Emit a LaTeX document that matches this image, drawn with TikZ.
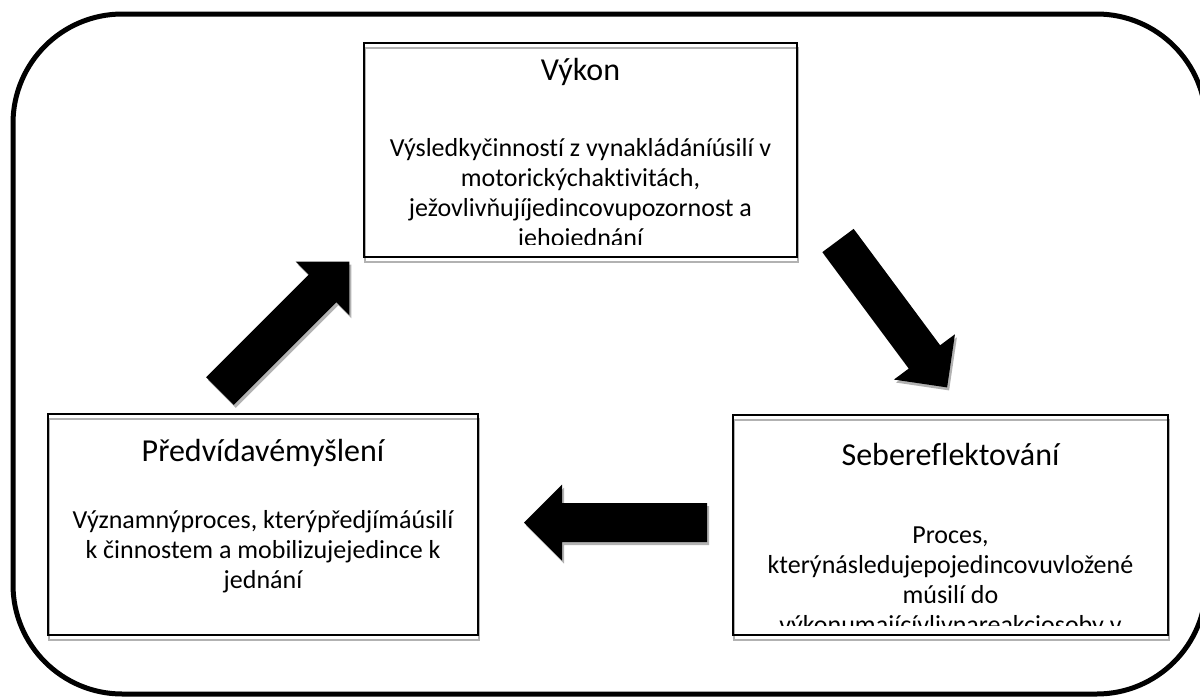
\documentclass[tikz,border=0pt]{standalone}
\usepackage{fontspec}
\setmainfont[Ligatures=NoCommon]{Carlito}
\newcommand{\headfont}{\fontsize{24}{28}\selectfont}
\newcommand{\bodyfont}{\fontsize{19.5}{22.5}\selectfont}
\tikzset{
  box/.style={draw, line width=1.5pt, inner sep=0pt},
  boxshadow/.style={draw=black!30, line width=1.5pt},
  head/.style={font=\headfont, inner sep=0pt},
  body/.style={font=\bodyfont, align=center, inner sep=0pt, anchor=north},
}
\begin{document}
\begin{tikzpicture}[x=0.75pt,y=-0.75pt]
\useasboundingbox (0,0) rectangle (1200,697);

% frame
\draw[line width=3.75pt, rounded corners=82pt] (13,14) rectangle (1206,694);

% boxes
\draw[boxshadow] (365,48) rectangle (798,262);
\draw[boxshadow] (49,419) rectangle (479,640);
\draw[boxshadow] (734,420) rectangle (1169,640);
\node[box, minimum width=324.75pt, minimum height=160.5pt] (vykon) at (580.5,150) {};
\node[box, minimum width=322.5pt, minimum height=165.75pt] (mysleni) at (263,524.5) {};
\node[box, minimum width=326.25pt, minimum height=165pt] (reflexe) at (950.5,525) {};

% texts
\node[head] (vykonhead) at (580.5,72) {Výkon};
\node[head] (myslenihead) at (263,453) {Předvídavémyšlení};
\node[head] (reflexehead) at (950.5,454) {Sebereflektování};

\begin{scope}
\clip (364,43) rectangle (797,244);
\node[body] (vykontext) at (580.5,138) {Výsledkyčinností z vynakládáníúsilí v\\
motorickýchaktivitách,\\ježovlivňujíjedincovupozornost a\\jehojednání};
\end{scope}
\node[body] (myslenitext) at (263,510) {Významnýproces, kterýpředjímáúsilí\\
k činnostem a mobilizujejedince k\\jednání};
\begin{scope}
\clip (733,415) rectangle (1168,625);
\node[body] (reflexetext) at (950.5,527) {Proces,\\kterýnásledujepojedincovuvložené\\
músilí do\\výkonumajícívlivnareakciosoby v};
\end{scope}

% arrows: tail x / tail y / angle
\foreach \x/\y/\a in {220/391/45, 838/240.5/-53.4, 707/522.5/180}{
  \fill[black!30, shift={(\x+2,\y+3)}, rotate=\a]
    (0,-19.5) -- (145,-19.5) -- (145,-38) -- (183,0) -- (145,38) -- (145,19.5) -- (0,19.5) -- cycle;
  \fill[shift={(\x,\y)}, rotate=\a]
    (0,-19.5) -- (145,-19.5) -- (145,-38) -- (183,0) -- (145,38) -- (145,19.5) -- (0,19.5) -- cycle;
}

\end{tikzpicture}
\end{document}
